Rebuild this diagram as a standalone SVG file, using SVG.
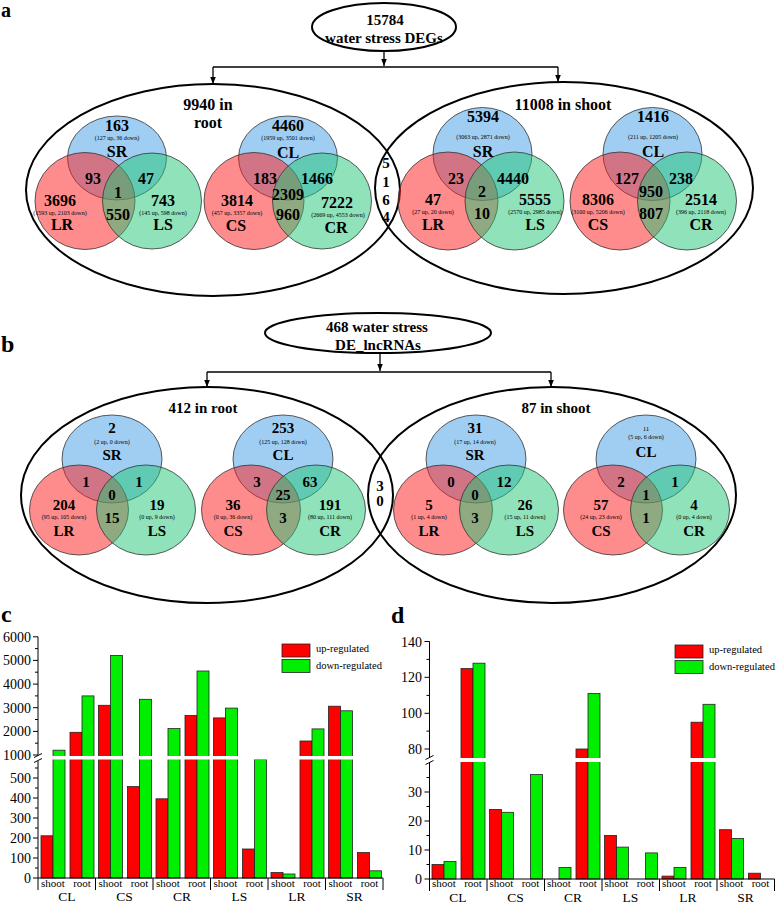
<svg xmlns="http://www.w3.org/2000/svg" width="778" height="904" viewBox="0 0 778 904">
<defs>
<marker id="ah" markerWidth="8" markerHeight="8" refX="7" refY="4" orient="auto" markerUnits="userSpaceOnUse"><path d="M0,1.2 L7,4 L0,6.8 Z" fill="#000"/></marker>
</defs>
<style>
.t{font-family:"Liberation Serif","Times New Roman",serif;font-weight:bold;text-anchor:middle;fill:#000}
.n{font-size:16px}
.m{font-size:15px}
.s{font-size:6px;font-weight:normal}
.frame{fill:none;stroke:#000;stroke-width:2}
.conn{fill:none;stroke:#000;stroke-width:1.3}
.b{fill:#419de5;fill-opacity:.5;stroke:#333;stroke-width:.8}
.r{fill:#ff1919;fill-opacity:.5;stroke:#333;stroke-width:.8}
.g{fill:#1fc573;fill-opacity:.5;stroke:#333;stroke-width:.8}
.ax{stroke:#000;stroke-width:1;fill:none}
.up{fill:#ff0000;stroke:#222;stroke-width:.8}
.dn{fill:#00ee00;stroke:#222;stroke-width:.8}
.tk{font-family:"Liberation Serif","Times New Roman",serif;font-size:14px;text-anchor:end}
.xl{font-family:"Liberation Serif","Times New Roman",serif;font-size:11px;text-anchor:middle}
.gl{font-family:"Liberation Serif","Times New Roman",serif;font-size:13.5px;text-anchor:middle}
.lg{font-family:"Liberation Serif","Times New Roman",serif;font-size:10.5px}
.pl{font-family:"Liberation Serif","Times New Roman",serif;font-weight:bold;font-size:24px}
</style>
<rect width="778" height="904" fill="#fff"/>

<!-- Panel a -->
<text class="pl" x="1" y="17" style="font-size:20px">a</text>
<g id="a-total">
<ellipse class="frame" cx="384" cy="27" rx="72" ry="24"/>
<text class="t m" x="385" y="25">15784</text>
<text class="t m" x="384" y="43">water stress DEGs</text>
</g>
<g id="a-root">
<ellipse class="frame" cx="213" cy="190" rx="187" ry="106"/>
<text class="t n" x="208" y="110">9940 in</text>
<text class="t n" x="208" y="128">root</text>
</g>
<g id="a-shoot">
<ellipse class="frame" cx="564" cy="188" rx="189" ry="106"/>
<text class="t n" x="563" y="110">11008 in shoot</text>
</g>
<g id="a-common">
<text class="t m" x="386" y="168">5</text>
<text class="t m" x="386" y="186.5">1</text>
<text class="t m" x="386" y="204.5">6</text>
<text class="t m" x="386" y="222">4</text>
</g>
<g id="a-connectors">
<path class="conn" d="M384,51 V66" marker-end="url(#ah)"/>
<path class="conn" d="M213,67 H558"/>
<path class="conn" d="M213,67 V84" marker-end="url(#ah)"/>
<path class="conn" d="M558,67 V82" marker-end="url(#ah)"/>
</g>

<g id="a-venn-root-1">
<ellipse class="b" cx="117" cy="158" rx="49.5" ry="42"/>
<ellipse class="r" cx="85" cy="201" rx="50" ry="48.5"/>
<ellipse class="g" cx="152" cy="201" rx="49.5" ry="48"/>
<text class="t n" x="117" y="131">163</text>
<text class="t s" x="117" y="140">(127 up, 36 down)</text>
<text class="t n" x="117" y="157">SR</text>
<text class="t n" x="93" y="184">93</text>
<text class="t n" x="146" y="184">47</text>
<text class="t n" x="118" y="198">1</text>
<text class="t n" x="118" y="220">550</text>
<text class="t n" x="60" y="206">3696</text>
<text class="t s" x="60" y="214.5">(1593 up, 2103 down)</text>
<text class="t n" x="62" y="230">LR</text>
<text class="t n" x="163" y="206">743</text>
<text class="t s" x="163" y="214.5">(145 up, 598 down)</text>
<text class="t n" x="163" y="230">LS</text>
</g>

<g id="a-venn-root-2">
<ellipse class="b" cx="288" cy="158" rx="49.5" ry="42"/>
<ellipse class="r" cx="254" cy="201" rx="50" ry="48.5"/>
<ellipse class="g" cx="322" cy="201" rx="49.5" ry="48"/>
<text class="t n" x="288" y="131">4460</text>
<text class="t s" x="288" y="140">(1959 up, 3501 down)</text>
<text class="t n" x="288" y="158">CL</text>
<text class="t n" x="265" y="184">183</text>
<text class="t n" x="317" y="184">1466</text>
<text class="t n" x="288" y="200">2309</text>
<text class="t n" x="288" y="220">960</text>
<text class="t n" x="237" y="206">3814</text>
<text class="t s" x="237" y="214.5">(457 up, 3357 down)</text>
<text class="t n" x="236" y="231">CS</text>
<text class="t n" x="337" y="208">7222</text>
<text class="t s" x="338" y="216.5">(2669 up, 4553 down)</text>
<text class="t n" x="336" y="233">CR</text>
</g>

<g id="a-venn-shoot-1">
<ellipse class="b" cx="482.5" cy="154" rx="49.5" ry="46.5"/>
<ellipse class="r" cx="448" cy="201" rx="50" ry="49"/>
<ellipse class="g" cx="514.5" cy="201" rx="49.5" ry="49"/>
<text class="t n" x="483" y="122">5394</text>
<text class="t s" x="483" y="138.5">(3063 up, 2871 down)</text>
<text class="t n" x="483" y="157">SR</text>
<text class="t n" x="456" y="184">23</text>
<text class="t n" x="513" y="184">4440</text>
<text class="t n" x="482" y="197">2</text>
<text class="t n" x="482" y="219">10</text>
<text class="t n" x="433" y="205">47</text>
<text class="t s" x="433" y="213.5">(27 up, 20 down)</text>
<text class="t n" x="433" y="230">LR</text>
<text class="t n" x="535" y="205">5555</text>
<text class="t s" x="535" y="213.5">(2570 up, 2985 down)</text>
<text class="t n" x="535" y="230">LS</text>
</g>

<g id="a-venn-shoot-2">
<ellipse class="b" cx="652.5" cy="154" rx="49.5" ry="46.5"/>
<ellipse class="r" cx="620" cy="201" rx="50" ry="49"/>
<ellipse class="g" cx="687" cy="201" rx="49.5" ry="49"/>
<text class="t n" x="653" y="122">1416</text>
<text class="t s" x="653" y="138.5">(211 up, 1205 down)</text>
<text class="t n" x="653" y="157">CL</text>
<text class="t n" x="627" y="184">127</text>
<text class="t n" x="681" y="184">238</text>
<text class="t n" x="651" y="197">950</text>
<text class="t n" x="651" y="219">807</text>
<text class="t n" x="598" y="205">8306</text>
<text class="t s" x="598" y="213.5">(3100 up, 5206 down)</text>
<text class="t n" x="598" y="230">CS</text>
<text class="t n" x="701" y="205">2514</text>
<text class="t s" x="701" y="213.5">(396 up, 2118 down)</text>
<text class="t n" x="701" y="230">CR</text>
</g>

<!-- Panel b -->
<text class="pl" x="1" y="352">b</text>
<g id="b-total">
<ellipse class="frame" cx="378" cy="333" rx="113" ry="20"/>
<text class="t m" x="377" y="332">468 water stress</text>
<text class="t m" x="378" y="350">DE_lncRNAs</text>
</g>
<g id="b-root">
<ellipse class="frame" cx="207" cy="495" rx="186" ry="108"/>
<text class="t m" x="203" y="413">412 in root</text>
</g>
<g id="b-shoot">
<ellipse class="frame" cx="552" cy="495" rx="184" ry="108"/>
<text class="t m" x="556" y="413">87 in shoot</text>
</g>
<g id="b-common">
<text class="t m" x="380" y="491">3</text>
<text class="t m" x="380" y="506">0</text>
</g>
<g id="b-connectors">
<path class="conn" d="M380,353 V371" marker-end="url(#ah)"/>
<path class="conn" d="M207,372 H551"/>
<path class="conn" d="M207,372 V387" marker-end="url(#ah)"/>
<path class="conn" d="M551,372 V387" marker-end="url(#ah)"/>
</g>

<g id="b-venn-root-1">
<ellipse class="b" cx="112" cy="459" rx="50" ry="44"/>
<ellipse class="r" cx="79" cy="510" rx="49.5" ry="45"/>
<ellipse class="g" cx="146" cy="510" rx="49.5" ry="45"/>
<text class="t m" x="112" y="433">2</text>
<text class="t s" x="112" y="444">(2 up, 0 down)</text>
<text class="t m" x="112" y="460">SR</text>
<text class="t m" x="86" y="487">1</text>
<text class="t m" x="139" y="487">1</text>
<text class="t m" x="112" y="500">0</text>
<text class="t m" x="112" y="523">15</text>
<text class="t m" x="64" y="510">204</text>
<text class="t s" x="64" y="519">(95 up, 105 down)</text>
<text class="t m" x="64" y="536">LR</text>
<text class="t m" x="157" y="510">19</text>
<text class="t s" x="157" y="519">(0 up, 9 down)</text>
<text class="t m" x="157" y="536">LS</text>
</g>

<g id="b-venn-root-2">
<ellipse class="b" cx="283" cy="459" rx="50" ry="44"/>
<ellipse class="r" cx="251" cy="510" rx="49.5" ry="45"/>
<ellipse class="g" cx="316" cy="510" rx="49.5" ry="45"/>
<text class="t m" x="283" y="433">253</text>
<text class="t s" x="283" y="444">(125 up, 128 down)</text>
<text class="t m" x="283" y="460">CL</text>
<text class="t m" x="257" y="487">3</text>
<text class="t m" x="310" y="487">63</text>
<text class="t m" x="283" y="500">25</text>
<text class="t m" x="283" y="523">3</text>
<text class="t m" x="233" y="510">36</text>
<text class="t s" x="233" y="519">(0 up, 36 down)</text>
<text class="t m" x="233" y="536">CS</text>
<text class="t m" x="330" y="510">191</text>
<text class="t s" x="330" y="519">(80 up, 111 down)</text>
<text class="t m" x="330" y="536">CR</text>
</g>

<g id="b-venn-shoot-1">
<ellipse class="b" cx="476" cy="459" rx="50" ry="44"/>
<ellipse class="r" cx="443" cy="510" rx="49.5" ry="45"/>
<ellipse class="g" cx="509" cy="510" rx="49.5" ry="45"/>
<text class="t m" x="475" y="433">31</text>
<text class="t s" x="475" y="444">(17 up, 14 down)</text>
<text class="t m" x="475" y="460">SR</text>
<text class="t m" x="451" y="487">0</text>
<text class="t m" x="504" y="487">12</text>
<text class="t m" x="475" y="500">0</text>
<text class="t m" x="475" y="523">3</text>
<text class="t m" x="429" y="510">5</text>
<text class="t s" x="429" y="519">(1 up, 4 down)</text>
<text class="t m" x="429" y="536">LR</text>
<text class="t m" x="525" y="510">26</text>
<text class="t s" x="525" y="519">(15 up, 11 down)</text>
<text class="t m" x="525" y="536">LS</text>
</g>

<g id="b-venn-shoot-2">
<ellipse class="b" cx="646" cy="459" rx="50" ry="44"/>
<ellipse class="r" cx="613" cy="510" rx="49.5" ry="45"/>
<ellipse class="g" cx="680" cy="510" rx="49.5" ry="45"/>
<text class="t s" x="646" y="431" style="font-size:7px">11</text>
<text class="t s" x="646" y="439">(5 up, 6 down)</text>
<text class="t m" x="646" y="457">CL</text>
<text class="t m" x="621" y="487">2</text>
<text class="t m" x="675" y="487">1</text>
<text class="t m" x="646" y="500">1</text>
<text class="t m" x="646" y="523">1</text>
<text class="t m" x="601" y="510">57</text>
<text class="t s" x="601" y="519">(24 up, 23 down)</text>
<text class="t m" x="601" y="536">CS</text>
<text class="t m" x="694" y="510">4</text>
<text class="t s" x="694" y="519">(0 up, 4 down)</text>
<text class="t m" x="694" y="536">CR</text>
</g>

<!-- Panel c -->
<g id="chart-c">
<text class="pl" x="1" y="622">c</text>
<g id="c-bars">
<rect class="up" x="41" y="835.8" width="12" height="42.2"/>
<rect class="dn" x="53" y="750.2" width="12" height="127.8"/>
<rect class="up" x="70" y="732.3" width="12" height="145.7"/>
<rect class="dn" x="82" y="695.9" width="12" height="182.1"/>
<rect class="up" x="98.5" y="705.3" width="12" height="172.7"/>
<rect class="dn" x="110.5" y="655.5" width="12" height="222.5"/>
<rect class="up" x="127.5" y="786.6" width="12" height="91.4"/>
<rect class="dn" x="139.5" y="699.3" width="12" height="178.7"/>
<rect class="up" x="156" y="798.8" width="12" height="79.2"/>
<rect class="dn" x="168" y="728.6" width="12" height="149.4"/>
<rect class="up" x="185" y="715.5" width="12" height="162.5"/>
<rect class="dn" x="197" y="671" width="12" height="207"/>
<rect class="up" x="213.5" y="717.9" width="12" height="160.1"/>
<rect class="dn" x="225.5" y="708.1" width="12" height="169.9"/>
<rect class="up" x="242.5" y="849" width="12" height="29"/>
<rect class="dn" x="254.5" y="759.5" width="12" height="118.5"/>
<rect class="up" x="271" y="872.6" width="12" height="5.4"/>
<rect class="dn" x="283" y="874" width="12" height="4"/>
<rect class="up" x="300" y="741" width="12" height="137"/>
<rect class="dn" x="312" y="728.9" width="12" height="149.1"/>
<rect class="up" x="328.5" y="706.2" width="12" height="171.8"/>
<rect class="dn" x="340.5" y="710.8" width="12" height="167.2"/>
<rect class="up" x="357.5" y="852.6" width="12" height="25.4"/>
<rect class="dn" x="369.5" y="870.8" width="12" height="7.2"/>
<rect x="39" y="756" width="344" height="3.5" fill="#fff"/>
</g>
<path class="ax" d="M38,636.8 V755 M38,761 V878 H383"/>
<path class="ax" d="M34,757.5 L42,753.5 M34,762.5 L42,758.5"/>
<path class="ax" d="M33,636.8 H38 M33,660.4 H38 M33,684.1 H38 M33,707.7 H38 M33,731.4 H38 M33,755 H38 M33,778 H38 M33,798 H38 M33,818 H38 M33,838 H38 M33,858 H38 M33,878 H38"/>
<path class="ax" d="M35,648.6 H38 M35,672.2 H38 M35,695.9 H38 M35,719.5 H38 M35,743.2 H38 M35,768 H38 M35,788 H38 M35,808 H38 M35,828 H38 M35,848 H38 M35,868 H38"/>
<path class="ax" d="M38,878 V890 M95.5,878 V890 M153,878 V890 M210.5,878 V890 M268,878 V890 M325.5,878 V890 M383,878 V890"/>
<text class="tk" x="31" y="641.8">6000</text>
<text class="tk" x="31" y="665.4">5000</text>
<text class="tk" x="31" y="689.1">4000</text>
<text class="tk" x="31" y="712.7">3000</text>
<text class="tk" x="31" y="736.4">2000</text>
<text class="tk" x="31" y="760">1000</text>
<text class="tk" x="31" y="783">500</text>
<text class="tk" x="31" y="803">400</text>
<text class="tk" x="31" y="823">300</text>
<text class="tk" x="31" y="843">200</text>
<text class="tk" x="31" y="863">100</text>
<text class="tk" x="31" y="883">0</text>
<text class="xl" x="53" y="886.5">shoot</text><text class="xl" x="82" y="886.5">root</text>
<text class="xl" x="110.5" y="886.5">shoot</text><text class="xl" x="139.5" y="886.5">root</text>
<text class="xl" x="168" y="886.5">shoot</text><text class="xl" x="197" y="886.5">root</text>
<text class="xl" x="225.5" y="886.5">shoot</text><text class="xl" x="254.5" y="886.5">root</text>
<text class="xl" x="283" y="886.5">shoot</text><text class="xl" x="312" y="886.5">root</text>
<text class="xl" x="340.5" y="886.5">shoot</text><text class="xl" x="369.5" y="886.5">root</text>
<text class="gl" x="67" y="901">CL</text>
<text class="gl" x="124.5" y="901">CS</text>
<text class="gl" x="182" y="901">CR</text>
<text class="gl" x="239.5" y="901">LS</text>
<text class="gl" x="297" y="901">LR</text>
<text class="gl" x="354.5" y="901">SR</text>
<rect class="up" x="282" y="644" width="28" height="13"/>
<rect class="dn" x="282" y="659.5" width="28" height="13"/>
<text class="lg" x="316" y="652">up-regulated</text>
<text class="lg" x="316" y="668.5">down-regulated</text>
</g>

<!-- Panel d -->
<g id="chart-d">
<text class="pl" x="391" y="623">d</text>
<g id="d-bars">
<rect class="up" x="432" y="864.5" width="12" height="14.5"/>
<rect class="dn" x="444" y="861.6" width="12" height="17.4"/>
<rect class="up" x="461" y="668.6" width="12" height="210.4"/>
<rect class="dn" x="473" y="663.2" width="12" height="215.8"/>
<rect class="up" x="489.5" y="809.4" width="12" height="69.6"/>
<rect class="dn" x="501.5" y="812.3" width="12" height="66.7"/>
<rect class="dn" x="530.5" y="774.6" width="12" height="104.4"/>
<rect class="dn" x="559" y="867.4" width="12" height="11.6"/>
<rect class="up" x="576" y="749" width="12" height="130"/>
<rect class="dn" x="588" y="693.6" width="12" height="185.4"/>
<rect class="up" x="604.5" y="835.5" width="12" height="43.5"/>
<rect class="dn" x="616.5" y="847.1" width="12" height="31.9"/>
<rect class="dn" x="645.5" y="852.9" width="12" height="26.1"/>
<rect class="up" x="662" y="876.1" width="12" height="2.9"/>
<rect class="dn" x="674" y="867.4" width="12" height="11.6"/>
<rect class="up" x="691" y="722.2" width="12" height="156.8"/>
<rect class="dn" x="703" y="704.3" width="12" height="174.7"/>
<rect class="up" x="719.5" y="829.7" width="12" height="49.3"/>
<rect class="dn" x="731.5" y="838.4" width="12" height="40.6"/>
<rect class="up" x="748.5" y="873.2" width="12" height="5.8"/>
<rect x="430.5" y="758" width="344" height="4" fill="#fff"/>
</g>
<path class="ax" d="M429.5,641.5 V757 M429.5,763 V879 H774.5"/>
<path class="ax" d="M425.5,759.5 L433.5,755.5 M425.5,764.5 L433.5,760.5"/>
<path class="ax" d="M424.5,641.5 H429.5 M424.5,677.3 H429.5 M424.5,713.3 H429.5 M424.5,749 H429.5 M424.5,792 H429.5 M424.5,821 H429.5 M424.5,850 H429.5 M424.5,879 H429.5"/>
<path class="ax" d="M426.5,659.4 H429.5 M426.5,695.4 H429.5 M426.5,731.1 H429.5 M426.5,777.5 H429.5 M426.5,806.5 H429.5 M426.5,835.5 H429.5 M426.5,864.5 H429.5"/>
<path class="ax" d="M429.5,879 V891 M487,879 V891 M544.5,879 V891 M602,879 V891 M659.5,879 V891 M717,879 V891 M774.5,879 V891"/>
<text class="tk" x="422" y="646.5">140</text>
<text class="tk" x="422" y="682.3">120</text>
<text class="tk" x="422" y="718.3">100</text>
<text class="tk" x="422" y="754">80</text>
<text class="tk" x="422" y="797">30</text>
<text class="tk" x="422" y="826">20</text>
<text class="tk" x="422" y="855">10</text>
<text class="tk" x="422" y="884">0</text>
<text class="xl" x="444" y="887">shoot</text><text class="xl" x="473" y="887">root</text>
<text class="xl" x="501.5" y="887">shoot</text><text class="xl" x="530.5" y="887">root</text>
<text class="xl" x="559" y="887">shoot</text><text class="xl" x="588" y="887">root</text>
<text class="xl" x="616.5" y="887">shoot</text><text class="xl" x="645.5" y="887">root</text>
<text class="xl" x="674" y="887">shoot</text><text class="xl" x="703" y="887">root</text>
<text class="xl" x="731.5" y="887">shoot</text><text class="xl" x="760.5" y="887">root</text>
<text class="gl" x="458" y="901.5">CL</text>
<text class="gl" x="515.5" y="901.5">CS</text>
<text class="gl" x="573" y="901.5">CR</text>
<text class="gl" x="630.5" y="901.5">LS</text>
<text class="gl" x="688" y="901.5">LR</text>
<text class="gl" x="745.5" y="901.5">SR</text>
<rect class="up" x="675" y="645" width="28" height="13"/>
<rect class="dn" x="675" y="660.5" width="28" height="13"/>
<text class="lg" x="709" y="653">up-regulated</text>
<text class="lg" x="709" y="669.5">down-regulated</text>
</g>
</svg>
